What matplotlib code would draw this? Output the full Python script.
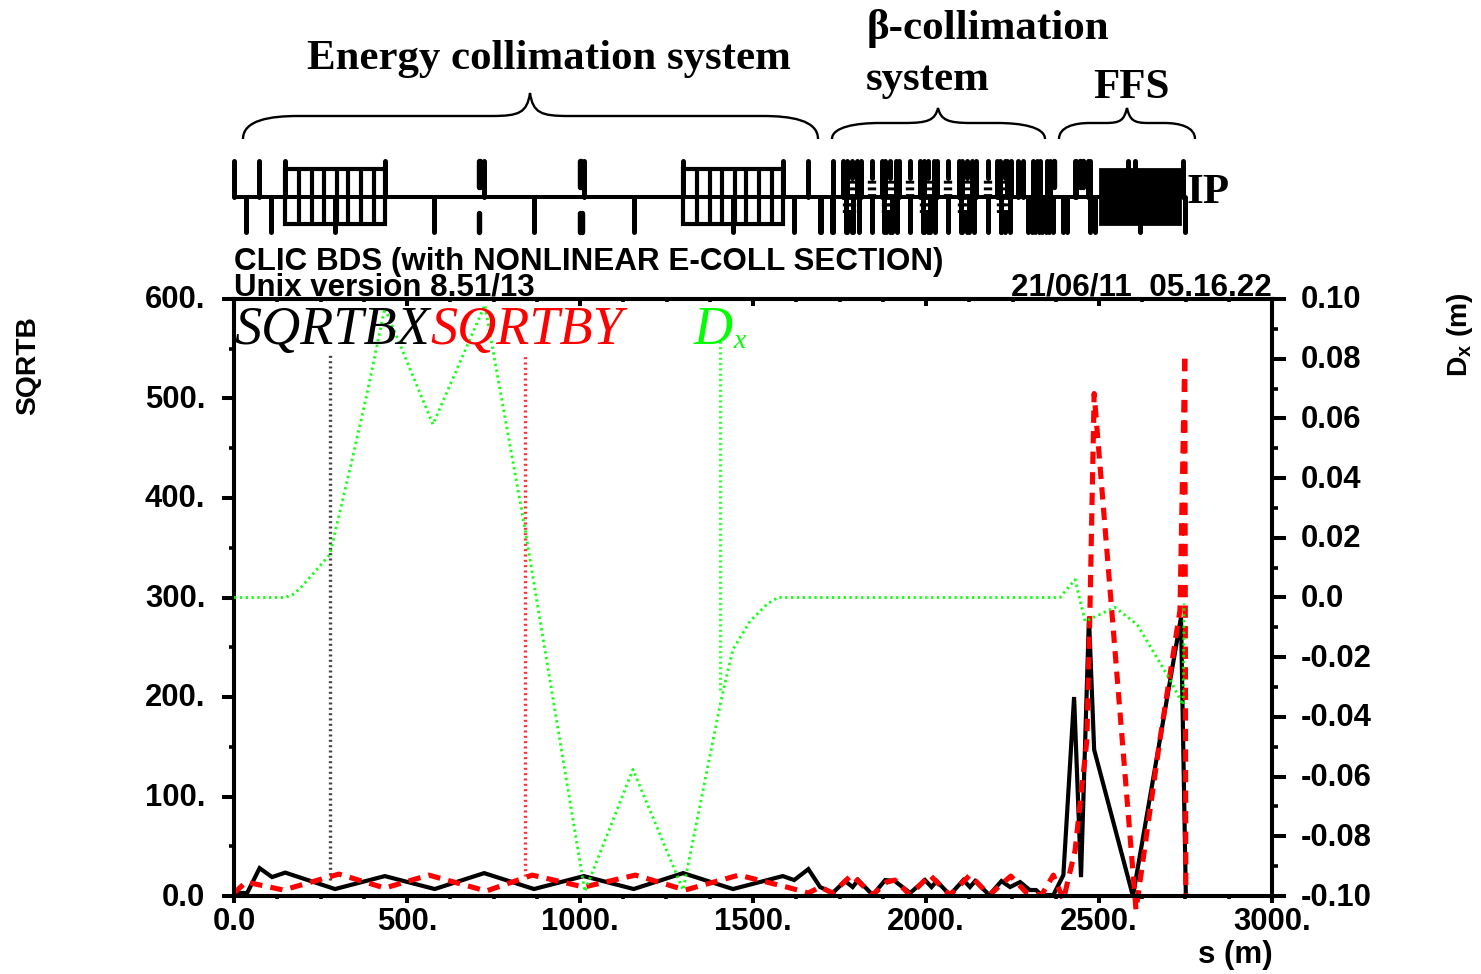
import matplotlib
matplotlib.use("Agg")
import matplotlib.pyplot as plt
from matplotlib.path import Path
from matplotlib.patches import PathPatch, Rectangle
from matplotlib.transforms import ScaledTranslation

W, H = 1481, 974

# optics
sx_s = [0, 38, 74, 110, 148, 292, 436, 580, 723, 867, 1011, 1155, 1298, 1442, 1586, 1619, 1660, 1694, 1730, 1766, 1788,
        1804, 1846, 1882, 1910, 1954, 1997, 2016, 2031, 2069, 2108, 2127, 2142, 2183, 2218, 2243, 2272, 2300, 2318,
        2334, 2368, 2397, 2428, 2448, 2471, 2486, 2598, 2676, 2737, 2751]
sx_v = [3, 3, 28, 19, 23.5, 7, 20, 7, 23, 7, 20, 7, 23, 7, 20, 16, 27, 9, 3, 15, 9,
        16, 1, 16, 15, 3, 16, 9, 15, 1, 16, 9, 15, 1, 15, 9, 14, 6, 6,
        1, 1, 21, 200, 19, 280, 147, 0, 157, 280, 0]

sy_s = [0, 35, 143, 303, 436, 563, 729, 862, 1011, 1160, 1304, 1459, 1597, 1660, 1694, 1730, 1785, 1846, 1886, 1910,
        1954, 2011, 2069, 2127, 2183, 2245, 2291, 2334, 2368, 2397, 2431, 2465, 2474, 2486, 2607, 2676, 2734, 2748, 2751]
sy_v = [3, 14, 6, 22, 8, 21, 5, 21, 9, 21, 6, 21, 9, 3, 9, 3, 21, 1, 14, 16,
        1, 21, 1, 21, 1, 20, 3, 1, 21, -4, 46, 157, 290, 505, -14, 157, 287, 544, 0]

dx_s = [0, 147, 170, 191, 277, 335, 384, 436, 575, 725, 841, 1014, 1153, 1298, 1405, 1413, 1442, 1491, 1540, 1572, 2387,
        2431, 2460, 2546, 2610, 2705, 2743, 2746]
dx_v = [0, 0, 0.001, 0.003, 0.0144, 0.043, 0.068, 0.097, 0.058, 0.098, 0.023, -0.0985, -0.0576, -0.098, -0.036, -0.0318, -0.0174, -0.008, -0.0023, 0, 0,
        0.006, -0.008, -0.0033, -0.009, -0.0275, -0.036, -0.002]

left_ticks = [0, 100, 200, 300, 400, 500, 600]
left_labels = ["0.0", "100.", "200.", "300.", "400.", "500.", "600."]
right_ticks = [-0.10, -0.08, -0.06, -0.04, -0.02, 0.0, 0.02, 0.04, 0.06, 0.08, 0.10]
right_minor = [-0.09, -0.07, -0.05, -0.03, -0.01, 0.01, 0.03, 0.05, 0.07, 0.09]
right_labels = ["-0.10", "-0.08", "-0.06", "-0.04", "-0.02", "0.0", "0.02", "0.04", "0.06", "0.08", "0.10"]
x_ticks = [0, 500, 1000, 1500, 2000, 2500, 3000]
x_labels = ["0.0", "500.", "1000.", "1500.", "2000.", "2500.", "3000."]

# beamline layout, positions in s
up_full = [0, 72, 147, 436, 723, 1012, 1298, 1587, 1659, 1731, 1761, 1771, 1801, 1811, 1872, 1882, 1912, 1922,
           1983, 1993, 2023, 2033, 2094, 2104, 2134, 2144, 2205, 2215, 2235, 2245, 2265, 2281, 2310, 2320, 2329,
           2349, 2359, 2430, 2434, 2468, 2474, 2584, 2604, 2742]
down_full = [35, 107, 292, 578, 867, 1156, 1442, 1618, 1697, 1731, 1694, 1728, 1768, 1790, 1805, 1843, 1879, 1901,
             1916, 1954, 1990, 2012, 2027, 2065, 2101, 2123, 2138, 2180, 2216, 2243, 2296, 2306, 2316, 2326, 2336,
             2346, 2356, 2366, 2396, 2407, 2475, 2488, 2618, 2748]
up_short = [708, 712, 1000, 1004, 2369, 2445, 2455]
down_short = [708, 1000, 1006]
hatch_up = [1785, 1843, 1896, 1954, 2007, 2065, 2118, 2180, 2229]
hatch_down = [1772, 1785, 1883, 1896, 1994, 2007, 2105, 2118, 2216, 2229]
bends = [(147, 436), (1298, 1587)]
bend_walls = [188, 225, 260, 297, 330, 366, 405, 1339, 1376, 1411, 1448, 1481, 1517, 1556]
ffs_block = (2503, 2734)

plt.rcParams["font.family"] = "Liberation Sans"
plt.rcParams["mathtext.fontset"] = "custom"
plt.rcParams["mathtext.bf"] = "Liberation Sans:bold"
fig = plt.figure(figsize=(W / 100, H / 100), dpi=100)

ax = fig.add_axes([234 / W, 1 - 896 / H, (1272 - 234) / W, (896 - 299) / H])
ax.set_xlim(0, 3000)
ax.set_ylim(0, 600)
ax.plot(sx_s, sx_v, color="black", lw=3.0, solid_joinstyle="miter", zorder=3)
ax.plot(sy_s, sy_v, color="#ff0000", lw=3.7, linestyle=(0, (2.4, 1.6)), zorder=4, clip_on=False)

ax2 = ax.twinx()
ax2.set_ylim(-0.1, 0.1)
ax2.plot(dx_s, dx_v, color="#00ff00", lw=2.1, linestyle=(0, (0.8, 1.2)), alpha=0.9, zorder=5)

# vertical legend markers
marker_dash = (0, (0.6, 1.0))
ax.vlines(277, 16, 545, color="#444444", lw=2.4, linestyle=marker_dash)
ax.vlines(841, 20, 545, color="#ff3030", lw=2.4, linestyle=marker_dash)
ax2.vlines(1405, -0.031, 0.086, color="#00ff00", lw=2.4, linestyle=marker_dash, alpha=0.8)

ax.set_xticks(x_ticks, x_labels)
ax.set_xticks(range(0, 3000, 125), minor=True)
ax.set_yticks(left_ticks, left_labels)
ax.set_yticks(range(0, 600, 50), minor=True)
ax2.set_yticks(right_ticks, right_labels)
ax2.set_yticks(right_minor, minor=True)
for a in (ax, ax2):
    for sp in a.spines.values():
        sp.set_linewidth(2.9)
ax.tick_params(axis="x", which="major", length=5, width=2.9, direction="out", labelsize=22.3, pad=3)
ax.tick_params(axis="x", which="minor", length=2.5, width=2.6, direction="out")
ax.tick_params(axis="y", which="major", length=8.6, width=2.9, direction="out", labelsize=22.3, pad=12)
ax.tick_params(axis="y", which="minor", length=3.6, width=2.6, direction="out")
ax2.tick_params(axis="y", which="major", length=10, width=2.9, direction="out", labelsize=22.3, pad=10.8)
ax2.tick_params(axis="y", which="minor", length=4.5, width=2.6, direction="out")
for lab in ax.get_xticklabels() + ax.get_yticklabels() + ax2.get_yticklabels():
    lab.set_fontweight("bold")
nudge = ScaledTranslation(0, 2 / 100, fig.dpi_scale_trans)
for lab in ax.get_yticklabels() + ax2.get_yticklabels():
    lab.set_transform(lab.get_transform() + nudge)

# top axis has its ticks pointing in
sec = ax.secondary_xaxis("top")
sec.set_xticks(x_ticks, [""] * len(x_ticks))
sec.set_xticks(range(0, 3000, 125), minor=True)
sec.tick_params(which="major", length=5, width=2.9, direction="in")
sec.tick_params(which="minor", length=2.5, width=2.6, direction="in")
sec.spines["top"].set_linewidth(2.9)

# beamline strip on the same s scale
st = fig.add_axes([234 / W, 1 - 233 / H, (1272 - 234) / W, (233 - 160) / H])
st.set_xlim(0, 3000)
st.set_ylim(-1, 1)
st.axis("off")
bar = dict(color="black", clip_on=False, capstyle="round")
st.hlines(0, 0, 2751, color="black", lw=2.9, clip_on=False)
st.vlines(up_full, 0, 0.97, lw=3.6, **bar)
st.vlines(down_full, -0.97, 0, lw=3.6, **bar)
st.vlines(up_short, 0.25, 0.97, lw=3.9, **bar)
st.vlines(down_short, -0.97, -0.45, lw=3.9, **bar)
st.vlines(hatch_up, 0.5, 0.97, lw=3.6, **bar)
st.vlines(hatch_up, 0, 0.5, color="black", lw=6, linestyle=(0, (0.35, 0.45)))
st.vlines(hatch_down, -0.97, -0.45, lw=3.6, **bar)
st.vlines(hatch_down, -0.45, 0, color="black", lw=6, linestyle=(0, (0.35, 0.45)))
for b0, b1 in bends:
    st.add_patch(Rectangle((b0, -0.75), b1 - b0, 1.5, fill=False, ec="black", lw=3.0, zorder=3))
st.vlines(bend_walls, -0.75, 0.75, color="black", lw=3.0)
st.add_patch(Rectangle((ffs_block[0], -0.75), ffs_block[1] - ffs_block[0], 1.5, fc="black", ec="black", lw=2))

# overlay in picture pixels for the annotation
top = fig.add_axes([0, 0, 1, 1])
top.set_xlim(0, W)
top.set_ylim(H, 0)
top.axis("off")


def brace(x0, x1, xm, y_end, y_line, y_tip):
    r = min(55, (xm - x0) * 0.45)
    verts = [(x0, y_end), (x0, y_line + 4), (x0 + r * 0.5, y_line), (x0 + r, y_line),
             (xm - r * 0.7, y_line), (xm - r * 0.2, y_line), (xm - 3, y_line - 3), (xm, y_tip),
             (xm + 3, y_line - 3), (xm + r * 0.2, y_line), (xm + r * 0.7, y_line),
             (x1 - r, y_line), (x1 - r * 0.5, y_line), (x1, y_line + 4), (x1, y_end)]
    codes = [Path.MOVETO] + [Path.CURVE4] * 3 + [Path.LINETO] + [Path.CURVE4] * 3 + [Path.CURVE4] * 3 + [Path.LINETO] + [Path.CURVE4] * 3
    top.add_patch(PathPatch(Path(verts, codes), fill=False, ec="black", lw=1.7))


brace(243, 818, 530, 139, 116, 93)
brace(832, 1045, 938, 139, 123, 108)
brace(1059, 1195, 1127, 139, 123, 108)

serif = "Liberation Serif"
top.text(307, 59, "Energy collimation system", family=serif, weight="bold", size=30.9, va="center", ha="left")
top.text(867, 28, "β-collimation", family=serif, weight="bold", size=31, va="center", ha="left")
top.text(866, 80, "system", family=serif, weight="bold", size=31, va="center", ha="left")
top.text(1093, 88, "FFS", family=serif, weight="bold", size=31, va="center", ha="left")
top.text(1187, 193, "IP", family=serif, weight="bold", size=31, va="center", ha="left")

top.text(234, 262, "CLIC BDS (with NONLINEAR E-COLL SECTION)", weight="bold", size=22.6, va="center", ha="left")
top.text(234, 288, "Unix version 8.51/13", weight="bold", size=22.5, va="center", ha="left")
top.text(1272, 288, "21/06/11  05.16.22", weight="bold", size=22.6, va="center", ha="right")

top.text(234, 331, "SQRTBX", family=serif, style="italic", size=39, color="black", va="center", ha="left")
top.text(430, 331, "SQRTBY", family=serif, style="italic", size=39, color="#ff0000", va="center", ha="left")
top.text(694, 331, "D", family=serif, style="italic", size=39, color="#00ff00", va="center", ha="left")
top.text(733, 341, "x", family=serif, style="italic", size=20, color="#00ff00", va="center", ha="left")

top.text(28, 366, "SQRTB", weight="bold", size=20.3, rotation=90, va="center", ha="center")
top.text(1460, 335, r"$\mathbf{D_x}$ (m)", weight="bold", size=20.3, rotation=90, va="center", ha="center")
top.text(1235, 955, "s (m)", weight="bold", size=22.5, va="center", ha="center")

fig.savefig("out.png", dpi=100)
